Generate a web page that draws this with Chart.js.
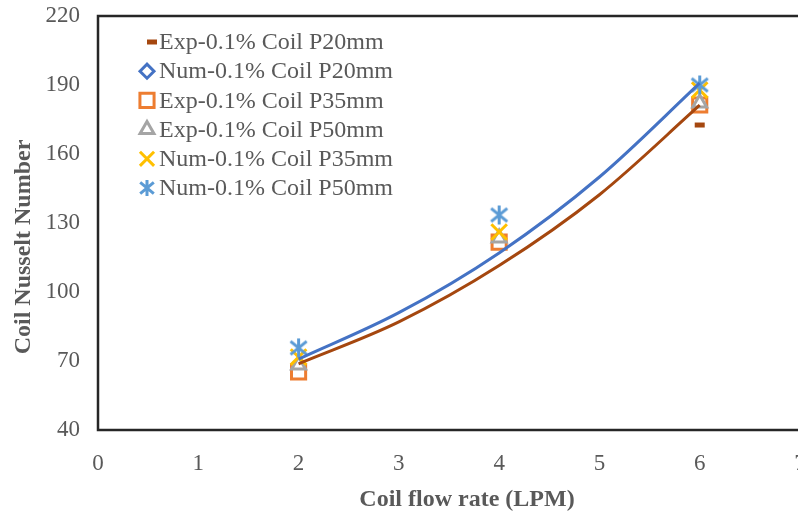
<!DOCTYPE html>
<html>
<head>
<meta charset="utf-8">
<script src="https://cdn.jsdelivr.net/npm/chart.js@4/dist/chart.umd.min.js"></script>
<style>
  html, body { margin: 0; padding: 0; background: #fff; overflow: hidden; }
  #wrap { width: 820px; height: 515px; }
</style>
</head>
<body>
<div id="wrap"><canvas id="myChart" width="820" height="515"></canvas></div>
<script>
// measured points (coil flow rate in LPM)
const flowRate = [2, 4, 6];
const expP20 = [66, 121.5, 172.6];
const numP20 = [66, 122, 181.5];
const expP35 = [65.2, 121.7, 181.3];
const expP50 = [68.3, 123.5, 182.2];
const numP35 = [71.7, 126.1, 187.8];
const numP50 = [75.7, 133.5, 190];

// trendlines
const trendX = [2, 3, 4, 5, 6];
const trendExpP20 = [68.8, 87, 111.5, 142.3, 181.2];
const trendNumP20 = [70.8, 91, 117, 150, 190.8];

const xTicks = [0, 1, 2, 3, 4, 5, 6, 7];
const yTicks = [40, 70, 100, 130, 160, 190, 220];

const textGray = '#595959';
const serif = "'Liberation Serif', 'Times New Roman', serif";

function pts(xs, ys) {
    return xs.map((x, i) => ({x: x, y: ys[i]}));
}

// excel style asterisk marker: an X with a vertical bar
function asterisk(color, size) {
    const c = document.createElement('canvas');
    c.width = size;
    c.height = size;
    const g = c.getContext('2d');
    const m = size / 2, r = size / 2 - 2;
    g.strokeStyle = color;
    g.lineWidth = 3;
    g.beginPath();
    g.moveTo(m - r * 0.85, m - r * 0.7); g.lineTo(m + r * 0.85, m + r * 0.7);
    g.moveTo(m + r * 0.85, m - r * 0.7); g.lineTo(m - r * 0.85, m + r * 0.7);
    g.moveTo(m, m - r); g.lineTo(m, m + r);
    g.stroke();
    return c;
}

function markerSet(label, ys, style, color, radius, fill, order, bw) {
    return {
        type: 'scatter',
        label: label,
        data: pts(flowRate, ys),
        pointStyle: style,
        pointRadius: radius,
        pointHoverRadius: radius,
        pointBorderWidth: bw || 3,
        pointBorderColor: color,
        pointBackgroundColor: fill,
        borderColor: color,
        backgroundColor: fill,
        showLine: false,
        order: order,
        inLegend: true
    };
}

function trendSet(ys, color) {
    return {
        type: 'line',
        label: '',
        data: pts(trendX, ys),
        borderColor: color,
        borderWidth: 3,
        pointRadius: 0,
        cubicInterpolationMode: 'monotone',
        fill: false,
        order: 0,
        inLegend: false
    };
}

const starMark = asterisk('#5B9BD5', 23);
const starLegend = asterisk('#5B9BD5', 20);

const datasets = [
    markerSet('Exp-0.1% Coil P20mm', expP20, 'line', '#A5470F', 5, '#A5470F', 6, 5),
    markerSet('Num-0.1% Coil P20mm', numP20, 'rectRot', '#4472C4', 6, '#fff', 5),
    markerSet('Exp-0.1% Coil P35mm', expP35, 'rect', '#ED7D31', 10, '#fff', 4),
    markerSet('Exp-0.1% Coil P50mm', expP50, 'triangle', '#A5A5A5', 8, '#fff', 3),
    markerSet('Num-0.1% Coil P35mm', numP35, 'crossRot', '#FFC000', 11, '#fff', 2),
    markerSet('Num-0.1% Coil P50mm', numP50, starMark, '#5B9BD5', 10, '#fff', 1),
    trendSet(trendExpP20, '#A5470F'),
    trendSet(trendNumP20, '#4472C4')
];

// legend drawn inside the plot, top-left, like the excel one
const legendSizes = {line: 5, rectRot: 7, rect: 10, triangle: 8, crossRot: 10};

const insideLegend = {
    id: 'insideLegend',
    afterDraw(chart) {
        const ctx = chart.ctx;
        ctx.save();
        ctx.font = '24px ' + serif;
        ctx.textBaseline = 'middle';
        ctx.textAlign = 'left';
        let row = 0;
        chart.data.datasets.forEach(ds => {
            if (!ds.inLegend) return;
            const y = 42 + row * 29.2;
            const mx = ds.pointStyle === 'line' ? 152 : 147;
            if (typeof ds.pointStyle === 'string') {
                ctx.strokeStyle = ds.pointBorderColor;
                ctx.fillStyle = ds.pointBackgroundColor;
                ctx.lineWidth = ds.pointBorderWidth;
                Chart.helpers.drawPoint(ctx, {
                    pointStyle: ds.pointStyle,
                    radius: legendSizes[ds.pointStyle],
                    rotation: 0,
                    borderWidth: ds.pointBorderWidth
                }, mx, y);
            } else {
                ctx.drawImage(starLegend, mx - 10, y - 10);
            }
            ctx.fillStyle = textGray;
            ctx.fillText(ds.label, 159, y + 1);
            row++;
        });
        ctx.restore();
    }
};

const frame = {
    id: 'frame',
    beforeDatasetsDraw(chart) {
        const a = chart.chartArea;
        const ctx = chart.ctx;
        ctx.save();
        ctx.strokeStyle = '#262626';
        ctx.lineWidth = 2.5;
        ctx.strokeRect(a.left, a.top, a.right - a.left + 20, a.bottom - a.top);
        ctx.restore();
    }
};

const config = {
    data: {datasets: datasets},
    options: {
        responsive: false,
        animation: false,
        layout: {padding: {top: 16, right: 20, bottom: 0, left: 0}},
        plugins: {
            legend: {display: false},
            tooltip: {enabled: false}
        },
        scales: {
            x: {
                type: 'linear',
                min: 0,
                max: 7,
                afterBuildTicks: s => { s.ticks = xTicks.map(v => ({value: v})); },
                afterFit: s => {
                    s.height = 85;
                    s.paddingLeft = 0;
                    s.paddingRight = 0;
                },
                grid: {display: false, drawTicks: false},
                border: {display: false},
                ticks: {color: textGray, font: {family: serif, size: 23}, padding: 20},
                title: {
                    display: true,
                    text: '      Coil flow rate (LPM)',
                    color: textGray,
                    font: {family: serif, size: 24, weight: 'bold'},
                    padding: {top: 0, bottom: 1}
                }
            },
            y: {
                type: 'linear',
                min: 40,
                max: 220,
                afterBuildTicks: s => { s.ticks = yTicks.map(v => ({value: v})); },
                afterFit: s => {
                    s.width = 98;
                    s.paddingTop = 0;
                    s.paddingBottom = 0;
                },
                grid: {display: false, drawTicks: false},
                border: {display: false},
                ticks: {color: textGray, font: {family: serif, size: 23}, padding: 18},
                title: {
                    display: true,
                    text: 'Coil Nusselt Number        ',
                    color: textGray,
                    font: {family: serif, size: 24, weight: 'bold'},
                    padding: {top: 9, bottom: 0}
                }
            }
        }
    },
    plugins: [frame, insideLegend]
};

const ctx = document.getElementById('myChart').getContext('2d');
new Chart(ctx, config);
</script>
</body>
</html>
